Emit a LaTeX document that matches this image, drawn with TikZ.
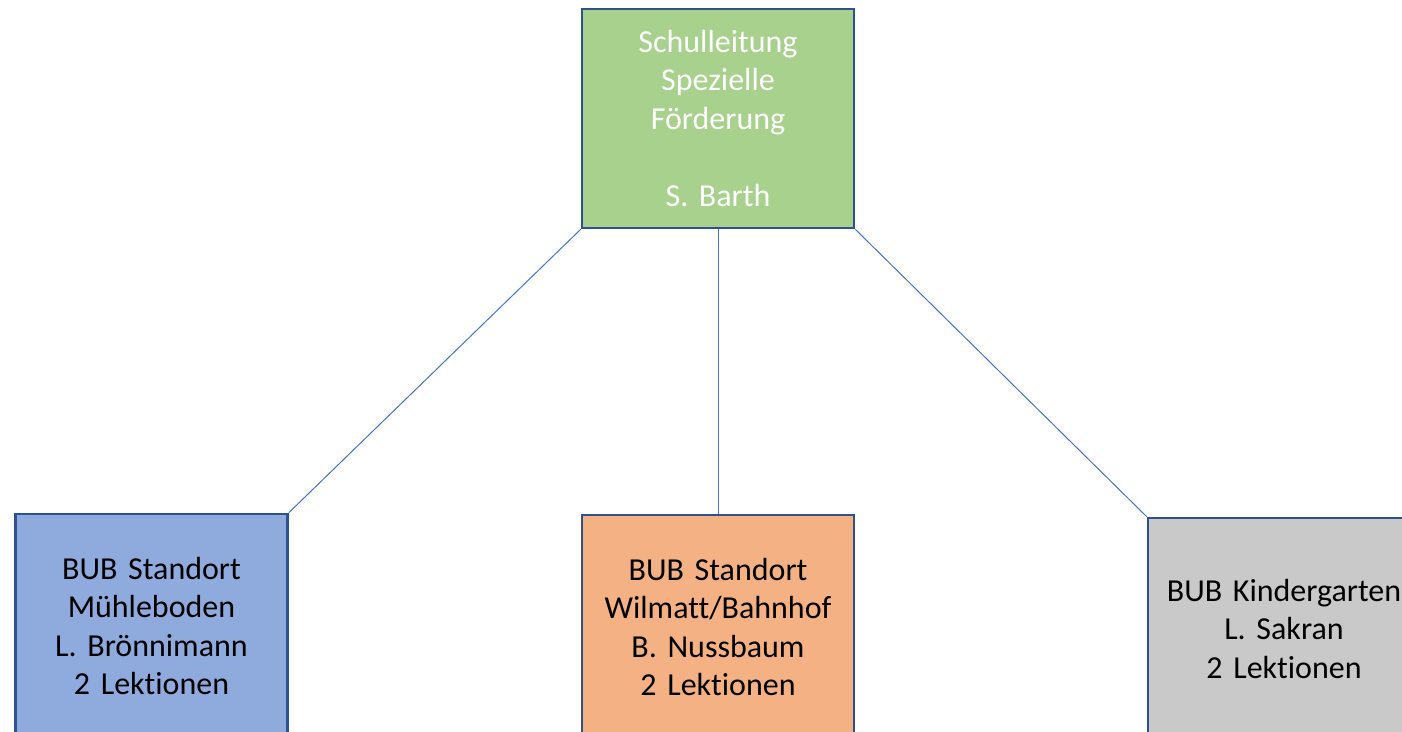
\documentclass[tikz,border=0pt]{standalone}
\usepackage{fontspec}
\setmainfont{Carlito}[Ligatures={NoCommon},WordSpace=0.8]
\frenchspacing
\definecolor{boxborder}{HTML}{2F528F}
\definecolor{linkcol}{HTML}{4472C4}
\definecolor{fgreen}{HTML}{A9D18E}
\definecolor{fblue}{HTML}{8FAADC}
\definecolor{forange}{HTML}{F4B183}
\definecolor{fgray}{HTML}{C9C9C9}
\tikzset{
  orgbox/.style={draw=boxborder, line width=2.5pt, minimum width=272pt, text width=262pt, align=center, inner sep=0pt, font=\fontsize{32}{38.5}\selectfont\frenchspacing},
  link/.style={draw=linkcol, line width=1pt}
}
\begin{document}
\begin{tikzpicture}[x=1pt,y=1pt]
\useasboundingbox (0,0) rectangle (1402,731);
\clip (0,0) rectangle (1402,731);
\node[orgbox, fill=fgreen, text=white, minimum height=219pt] (top) at (718,612.5) {Schulleitung\\Spezielle\\Förderung\\[38.5pt]S. Barth};
\node[orgbox, fill=fblue, minimum height=224pt] (left) at (151.5,105) {BUB Standort\\Mühleboden\\L. Brönnimann\\2 Lektionen};
\node[orgbox, fill=forange, minimum height=224pt] (mid) at (718,104) {BUB Standort\\Wilmatt/Bahnhof\\B. Nussbaum\\2 Lektionen};
\node[orgbox, fill=fgray, minimum height=222pt] (right) at (1284,102) {BUB Kindergarten\\L. Sakran\\2 Lektionen};
\draw[link] (top.south west) -- (left.north east);
\draw[link] (top.south) -- (mid.north);
\draw[link] (top.south east) -- (right.north west);
\end{tikzpicture}
\end{document}
